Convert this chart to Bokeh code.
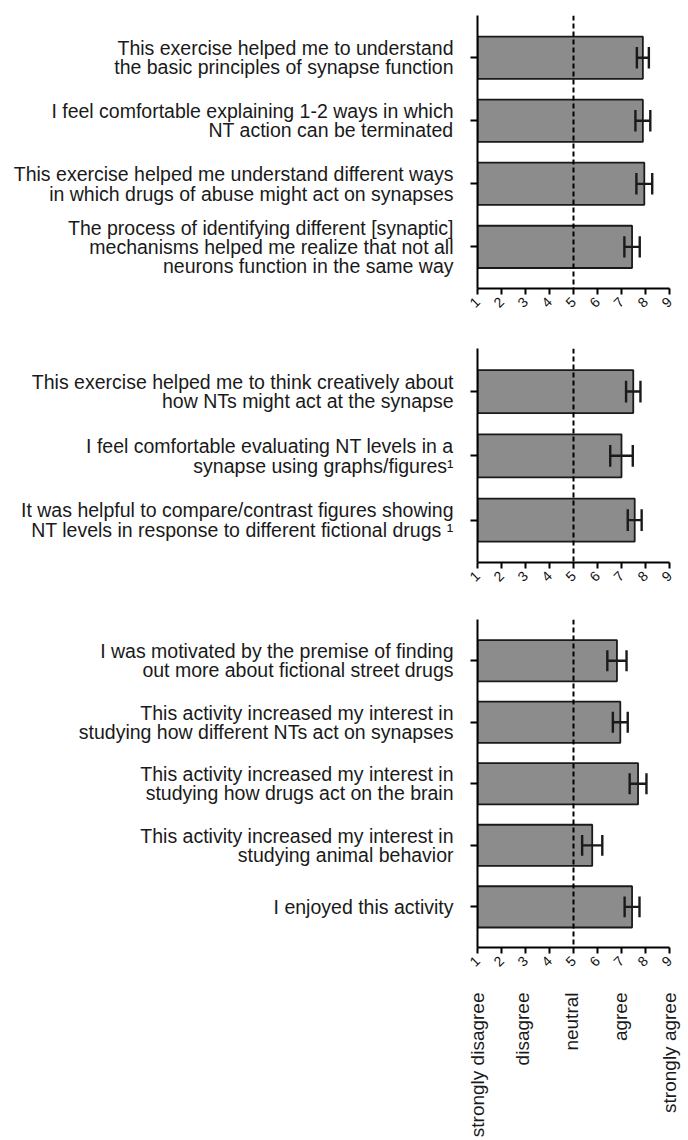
from bokeh.plotting import figure
from bokeh.models import Range1d, FixedTicker, Span, LinearAxis, ColumnDataSource
from bokeh.layouts import column
from bokeh.embed import file_html
from bokeh.resources import INLINE
from math import pi

# ---------------- data ----------------
labels1 = [
    "This exercise helped me to understand\nthe basic principles of synapse function",
    "I feel comfortable explaining 1-2 ways in which\nNT action can be terminated",
    "This exercise helped me understand different ways\nin which drugs of abuse might act on synapses",
    "The process of identifying different [synaptic]\nmechanisms helped me realize that not all\nneurons function in the same way",
]
means1 = [7.89, 7.89, 7.95, 7.44]
sem1 = [0.25, 0.31, 0.33, 0.32]

labels2 = [
    "This exercise helped me to think creatively about\nhow NTs might act at the synapse",
    "I feel comfortable evaluating NT levels in a\nsynapse using graphs/figures\u00b9",
    "It was helpful to compare/contrast figures showing\nNT levels in response to different fictional drugs \u00b9",
]
means2 = [7.49, 7.00, 7.55]
sem2 = [0.30, 0.47, 0.29]

labels3 = [
    "I was motivated by the premise of finding\nout more about fictional street drugs",
    "This activity increased my interest in\nstudying how different NTs act on synapses",
    "This activity increased my interest in\nstudying how drugs act on the brain",
    "This activity increased my interest in\nstudying animal behavior",
    "I enjoyed this activity",
]
means3 = [6.81, 6.95, 7.69, 5.78, 7.44]
sem3 = [0.40, 0.31, 0.35, 0.42, 0.31]

scale_ticks = [1, 2, 3, 4, 5, 6, 7, 8, 9]
neutral = 5
anchor_names = ["strongly disagree", "disagree", "neutral", "agree", "strongly agree"]
anchor_pos = [1, 2.88, 4.92, 6.95, 9]

FONT = "Liberation Sans"
BAR_FILL = "#8c8c8c"
INK = "#1a1a1a"


def make_panel(labels, means, sems, frame_h, top_b, bottom_b):
    n = len(labels)
    pos = list(range(n))
    p = figure(
        width=477 + 192 + 12, height=top_b + frame_h + bottom_b,
        x_range=Range1d(1, 9),
        y_range=Range1d(start=n - 1 + 0.66, end=-0.67),
        output_backend="svg", toolbar_location=None,
        min_border_left=477, min_border_right=12,
        min_border_top=top_b, min_border_bottom=bottom_b,
    )
    p.outline_line_color = None
    p.grid.visible = False
    p.background_fill_color = "white"

    src = ColumnDataSource(dict(
        y=pos, m=means,
        lo=[m - s for m, s in zip(means, sems)],
        hi=[m + s for m, s in zip(means, sems)],
        c0=[y - 0.17 for y in pos],
        c1=[y + 0.17 for y in pos],
    ))
    p.hbar(y="y", left=1, right="m", height=0.67, source=src,
           fill_color=BAR_FILL, line_color=INK, line_width=1.8)
    p.add_layout(Span(location=neutral, dimension="height",
                      line_color="black", line_width=2, line_dash="5 3"))
    p.segment(x0="lo", x1="hi", y0="y", y1="y", source=src,
              line_color=INK, line_width=2.4)
    p.segment(x0="lo", x1="lo", y0="c0", y1="c1", source=src,
              line_color=INK, line_width=2.4)
    p.segment(x0="hi", x1="hi", y0="c0", y1="c1", source=src,
              line_color=INK, line_width=2.4)

    # x axis
    xa = p.xaxis[0]
    xa.ticker = FixedTicker(ticks=scale_ticks)
    xa.axis_line_width = 2
    xa.axis_line_color = "black"
    xa.major_tick_line_width = 2
    xa.major_tick_line_color = "black"
    xa.major_tick_out = 6
    xa.major_tick_in = 0
    xa.minor_tick_line_color = None
    xa.major_label_orientation = pi / 4
    xa.major_label_text_font = FONT
    xa.major_label_text_font_size = "14px"
    xa.major_label_text_color = "#111111"
    xa.major_label_standoff = 5

    # y axis
    ya = p.yaxis[0]
    ya.ticker = FixedTicker(ticks=pos)
    ya.major_label_overrides = {i: lab for i, lab in enumerate(labels)}
    ya.axis_line_width = 2
    ya.axis_line_color = "black"
    ya.major_tick_line_width = 2
    ya.major_tick_line_color = "black"
    ya.major_tick_out = 7
    ya.major_tick_in = 0
    ya.minor_tick_line_color = None
    ya.major_label_text_font = FONT
    ya.major_label_text_font_size = "19.5px"
    ya.major_label_text_color = INK
    ya.major_label_text_line_height = 0.88
    ya.major_label_text_align = "right"
    ya.major_label_standoff = 17
    return p


p1 = make_panel(labels1, means1, sem1, 273, 15, 32)
p2 = make_panel(labels2, means2, sem2, 214, 28, 30)
p3 = make_panel(labels3, means3, sem3, 332, 27, 189)

# anchor labels under the last panel, as a second (label-only) axis
anchor_axis = LinearAxis(
    ticker=FixedTicker(ticks=anchor_pos),
    major_label_overrides={xp: name for xp, name in zip(anchor_pos, anchor_names)},
    major_label_orientation=pi / 2,
    axis_line_color=None, major_tick_line_color=None, minor_tick_line_color=None,
    major_label_text_font=FONT, major_label_text_font_size="19px",
    major_label_text_color=INK, major_label_standoff=12,
)
p3.add_layout(anchor_axis, "below")

layout = column(p1, p2, p3, spacing=0)
open("out.html", "w").write(file_html(layout, INLINE))
